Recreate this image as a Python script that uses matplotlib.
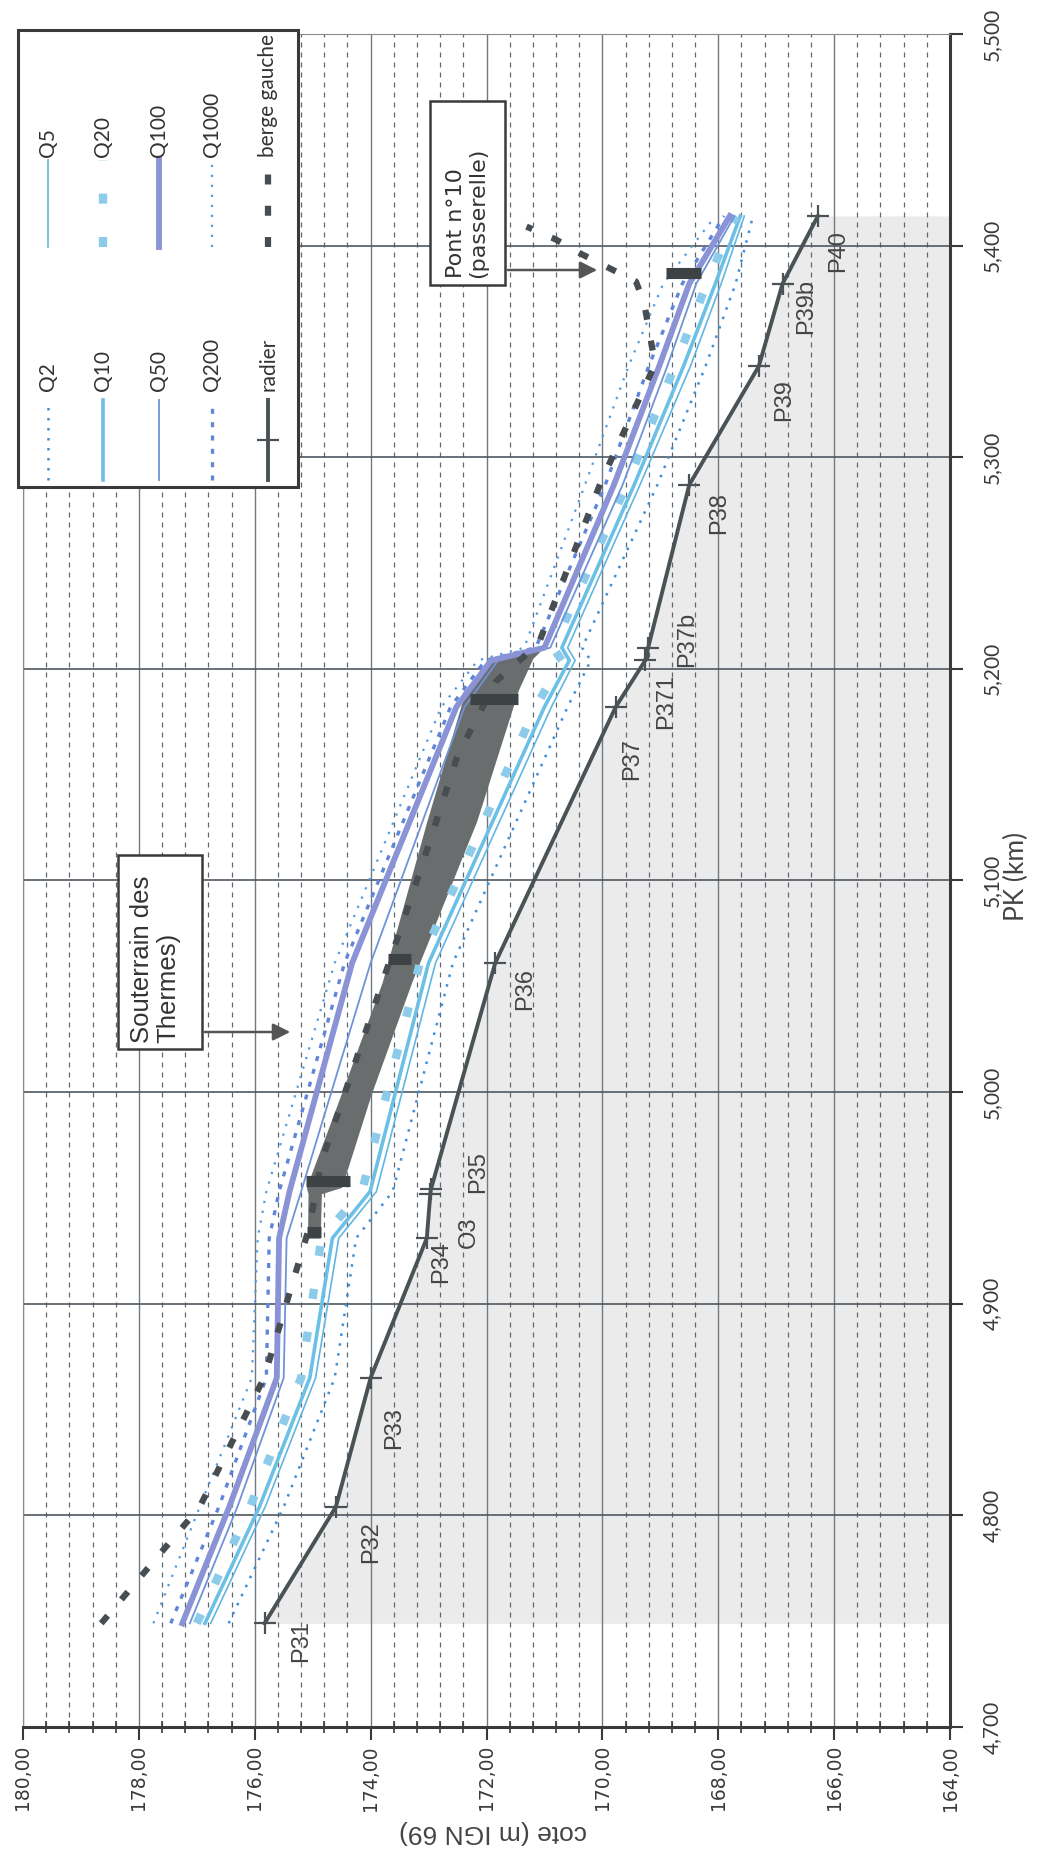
import matplotlib
matplotlib.use('Agg')
import matplotlib.pyplot as plt
from matplotlib.ticker import MultipleLocator, FuncFormatter
from matplotlib.lines import Line2D
from matplotlib.patches import Rectangle, FancyArrowPatch

# ---------------- data ----------------
pk_radier = [4.749, 4.804, 4.865, 4.931, 4.952, 4.954, 5.061, 5.182, 5.204, 5.210, 5.287, 5.343, 5.382, 5.414]
cote_radier = [175.83, 174.60, 174.00, 173.03, 172.97, 172.96, 171.85, 169.77, 169.26, 169.21, 168.50, 167.30, 166.89, 166.28]
labels_radier = ["P31", "P32", "P33", "P34", "O3", "P35", "P36", "P37", "P371", "P37b", "P38", "P39", "P39b", "P40"]

pk_eau = [4.749, 4.804, 4.865, 4.931, 4.953, 5.061, 5.182, 5.204, 5.210, 5.287, 5.343, 5.382, 5.414]
q2 = [176.45, 175.50, 174.62, 174.25, 173.62, 172.58, 170.60, 170.20, 170.35, 169.05, 168.22, 167.70, 167.40]
q5 = [176.76, 175.82, 174.95, 174.55, 173.90, 172.88, 170.88, 170.47, 170.60, 169.35, 168.48, 167.95, 167.55]
q10 = [176.86, 175.92, 175.05, 174.66, 174.01, 173.00, 171.00, 170.57, 170.70, 169.45, 168.60, 168.05, 167.62]
q20 = [177.00, 176.08, 175.20, 174.85, 174.15, 173.15, 171.15, 170.70, 170.85, 169.58, 168.75, 168.20, 167.70]
q50 = [177.12, 176.30, 175.50, 175.45, 175.20, 174.00, 172.38, 171.80, 170.90, 169.65, 168.88, 168.38, 167.72]
q100 = [177.25, 176.44, 175.62, 175.58, 175.40, 174.32, 172.52, 171.92, 171.00, 169.80, 169.02, 168.50, 167.80]
q200 = [177.45, 176.62, 175.80, 175.75, 175.58, 174.45, 172.62, 172.02, 171.15, 169.95, 169.20, 168.62, 167.90]
q1000 = [177.75, 176.95, 176.05, 175.95, 175.80, 174.62, 172.78, 172.15, 171.35, 170.30, 169.55, 168.95, 168.05]

pk_berge = [4.749, 4.804, 4.865, 4.936, 4.967, 5.104, 5.159, 5.194, 5.212, 5.253, 5.288, 5.344, 5.373, 5.383, 5.396, 5.403, 5.409]
cote_berge = [178.65, 176.95, 175.84, 175.06, 174.85, 173.15, 172.50, 171.84, 171.10, 170.52, 170.03, 169.09, 169.28, 169.42, 170.36, 170.81, 171.31]

tunnel_pk = [4.931, 4.952, 4.955, 4.999, 5.052, 5.128, 5.190, 5.205, 5.209]
tunnel_haut = [175.09, 175.08, 175.11, 174.51, 173.80, 173.03, 172.36, 171.96, 171.05]
tunnel_bas = [174.87, 174.85, 174.50, 173.99, 173.29, 172.17, 171.45, 171.20, 171.05]

ouvrage_pk = [4.934, 4.958, 5.063, 5.186, 5.387]
ouvrage_haut = [175.10, 175.11, 173.70, 172.28, 168.90]
ouvrage_bas = [174.85, 174.35, 173.30, 171.45, 168.30]

# label offsets (pixels, right / down) for radier labels
lab_off = [(37, 18), (35, 35), (24, 50), (14, 24), (39, 39), (47, -17), (30, 26),
           (16, 52), (21, 41), (39, -8), (30, 28), (25, 34), (24, 23), (20, 35)]

# ---------------- styles ----------------
styles = {
    'Q2': dict(color='#3d8fd9', lw=1.8, ls=(0, (1, 3))),
    'Q5': dict(color='#62b6e2', lw=1.2, ls='-'),
    'Q10': dict(color='#6cc0e6', lw=2.6, ls='-'),
    'Q20': dict(color='#8ccbe9', lw=6.0, ls=(0, (1.2, 4))),
    'Q50': dict(color='#6f93d8', lw=1.3, ls='-'),
    'Q100': dict(color='#8a93d5', lw=4.2, ls='-'),
    'Q200': dict(color='#5f86d8', lw=2.4, ls=(0, (1.5, 2.5))),
    'Q1000': dict(color='#4f9be3', lw=1.6, ls=(0, (1, 3.5))),
    'berge gauche': dict(color='#474d50', lw=4.5, ls=(0, (1.6, 3.4))),
    'radier': dict(color='#4a5255', lw=2.8, ls='-', marker='+', ms=16, mew=1.6),
}

W, H = 1040, 1862
fig = plt.figure(figsize=(W / 100, H / 100), dpi=100)
fig.patch.set_facecolor('white')


def F(x, y):
    return (x / W, 1 - y / H)


ax_l, ax_r, ax_t, ax_b = 23, 950, 34, 1727
ax = fig.add_axes([ax_l / W, 1 - ax_b / H, (ax_r - ax_l) / W, (ax_b - ax_t) / H])
ax.set_xlim(180, 164)
ax.set_ylim(4.7, 5.5)

ax.xaxis.set_major_locator(MultipleLocator(2))
ax.xaxis.set_minor_locator(MultipleLocator(0.4))
ax.yaxis.set_major_locator(MultipleLocator(0.1))
ax.xaxis.set_major_formatter(FuncFormatter(lambda v, p: f"{v:.2f}".replace('.', ',')))
ax.yaxis.set_major_formatter(FuncFormatter(lambda v, p: f"{v:.3f}".replace('.', ',')))
ax.yaxis.tick_right()
ax.tick_params(axis='x', which='major', direction='out', length=9, width=1.5, pad=4,
               labelsize=13.5, labelrotation=90, colors='#3a3a3a')
ax.tick_params(axis='x', which='minor', direction='inout', length=8, width=1.2, colors='#3a3a3a')
ax.tick_params(axis='y', which='major', direction='out', length=9, width=1.5, pad=14,
               labelsize=15, labelrotation=90, colors='#3a3a3a')
for lab in ax.get_yticklabels():
    lab.set_verticalalignment('center')
    lab.set_family('Lato')
for lab in ax.get_xticklabels():
    lab.set_family('DejaVu Sans')

ax.set_axisbelow(True)
ax.grid(True, which='major', axis='y', color='#4f5860', lw=1.2)
ax.grid(True, which='major', axis='x', color='#6f7a84', lw=1.0)
ax.grid(True, which='minor', axis='x', color='#5f6870', lw=0.9, ls=(0, (4, 4)))

for s in ['right', 'bottom']:
    ax.spines[s].set_color('#3a3a3a')
    ax.spines[s].set_linewidth(2.2)
for s in ['left', 'top']:
    ax.spines[s].set_color('#8a8a8a')
    ax.spines[s].set_linewidth(0.8)

# shaded ground below radier
ax.fill_betweenx(pk_radier, cote_radier, 164, color='#ebebeb', zorder=0.2, lw=0)

# tunnel band
ax.fill_betweenx(tunnel_pk, tunnel_bas, tunnel_haut, color='#6a6d6d', zorder=2, lw=0)

# water lines
series = [('Q2', q2), ('Q5', q5), ('Q10', q10), ('Q20', q20),
          ('Q50', q50), ('Q200', q200), ('Q1000', q1000), ('Q100', q100)]
for name, vals in series:
    ax.plot(vals, pk_eau, zorder=3, **styles[name])

ax.plot(cote_berge, pk_berge, zorder=4, **styles['berge gauche'])

for p, h, b in zip(ouvrage_pk, ouvrage_haut, ouvrage_bas):
    ax.plot([h, b], [p, p], color='#3d4244', lw=8, solid_capstyle='butt', zorder=5)

ax.plot(cote_radier, pk_radier, zorder=4, **styles['radier'])

for c, p, lab, (dx, dy) in zip(cote_radier, pk_radier, labels_radier, lab_off):
    ax.annotate(lab, (c, p), xytext=(dx, -dy), textcoords='offset pixels',
                rotation=90, ha='center', va='center', fontsize=17,
                family='Liberation Sans', color='#454545', zorder=6)

# axis titles
fig.text(*F(493, 1832), 'cote (m IGN 69)', rotation=180, ha='center', va='center',
         fontsize=19, family='Liberation Sans', color='#444444')
fig.text(*F(1016, 876), 'PK (km)', rotation=90, ha='center', va='center',
         fontsize=19, family='Lato', color='#444444')

# annotation boxes
def box(x0, y0, x1, y1):
    r = Rectangle(F(x0, y1), (x1 - x0) / W, (y1 - y0) / H, transform=fig.transFigure,
                  facecolor='white', edgecolor='#3a3a3a', lw=1.8, zorder=8)
    fig.add_artist(r)


def arrow(x0, y0, x1, y1):
    a = FancyArrowPatch(F(x0, y0), F(x1, y1), transform=fig.transFigure,
                        arrowstyle='-|>', mutation_scale=26, color='#555555', lw=1.8, zorder=8)
    fig.add_artist(a)


box(118, 855, 202, 1049)
fig.text(*F(155, 1043), 'Souterrain des\nThermes)', rotation=90, ha='center', va='bottom',
         multialignment='left', fontsize=18.5, family='Liberation Sans', color='#333333',
         zorder=9, linespacing=1.15)
arrow(202, 1032, 293, 1032)

box(430, 101, 505, 285)
fig.text(*F(467, 278), 'Pont n°10\n(passerelle)', rotation=90, ha='center', va='bottom',
         multialignment='left', fontsize=16, family='DejaVu Sans', color='#333333',
         zorder=9, linespacing=1.15)
arrow(505, 270, 600, 270)

# legend (rotated layout)
box_l = Rectangle(F(18, 487), 280 / W, 457 / H, transform=fig.transFigure,
                  facecolor='white', edgecolor='#3a3a3a', lw=2.2, zorder=10)
fig.add_artist(box_l)
rows_x = [48, 103, 159, 212, 268]
col_a = ['Q2', 'Q10', 'Q50', 'Q200', 'radier']
col_b = ['Q5', 'Q20', 'Q100', 'Q1000', 'berge gauche']
for x, na, nb in zip(rows_x, col_a, col_b):
    for name, y_lo, y_hi, y_txt in [(na, 480, 400, 391), (nb, 247, 160, 157)]:
        st = dict(styles[name])
        ys = [1 - y_lo / H, 1 - (y_lo + y_hi) / 2 / H, 1 - y_hi / H]
        ln = Line2D([x / W] * 3, ys, transform=fig.transFigure, zorder=11,
                    markevery=[1], **st)
        fig.add_artist(ln)
        fig.text(*F(x, y_txt), name, rotation=90, ha='center', va='bottom',
                 fontsize=15, family='Lato', color='#333333', zorder=12)

fig.savefig('out.png', dpi=100, facecolor='white')
